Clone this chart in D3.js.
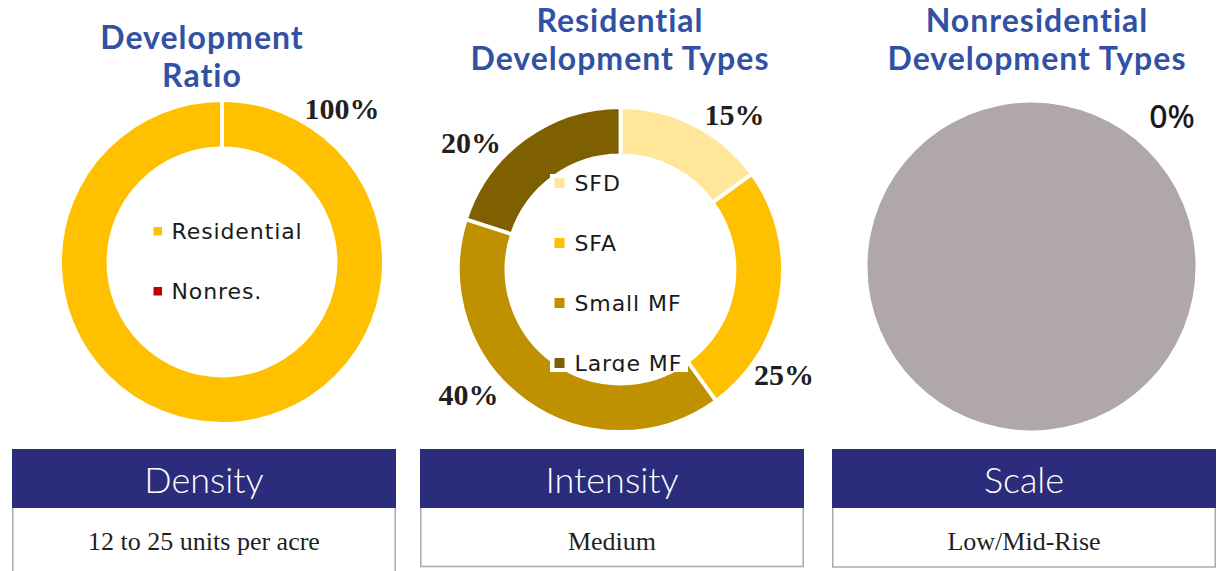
<!DOCTYPE html>
<html>
<head>
<meta charset="utf-8">
<script src="https://cdn.jsdelivr.net/npm/d3@7"></script>
<style>
  html, body { margin: 0; padding: 0; background: #ffffff; }
  svg { display: block; }
</style>
</head>
<body>
<svg id="chart" width="1220" height="571"></svg>
<script>
// ---- data ----
const ratioCategories = ["Residential", "Nonres."];
const ratioValues = [100, 0];

const resCategories = ["SFD", "SFA", "Small MF", "Large MF"];
const resValues = [15, 25, 40, 20];

const nonresCategories = ["Nonresidential", "Unassigned"];
const nonresValues = [0, 100];

const panelTitles = [
  ["Development", "Ratio"],
  ["Residential", "Development Types"],
  ["Nonresidential", "Development Types"]
];
const boxHeaders = ["Density", "Intensity", "Scale"];
const boxValues = ["12 to 25 units per acre", "Medium", "Low/Mid-Rise"];

// ---- styles / layout ----
const ratioColors = ["#FFC000", "#C00000"];
const resColors = ["#FFE699", "#FFC000", "#BF9000", "#7F6000"];
const nonresColors = ["#C00000", "#AFA7AB"];
const titleColor = "#3151A4";
const headerColor = "#2B2D7C";

const svg = d3.select("#chart");
const fmtPct = v => v + "%";

const titleFont = "Lato, 'Open Sans', sans-serif";
const legendFont = "'DejaVu Sans', sans-serif";
const serifFont = "'Liberation Serif', 'Times New Roman', serif";

// Panel titles (two lines each)
const titleLayout = [
  { x: 202, y: [49, 87] },
  { x: 620, y: [31.5, 69.5] },
  { x: 1037, y: [31.5, 69.5] }
];
panelTitles.forEach((lines, i) => {
  const t = svg.append("text")
    .attr("text-anchor", "middle")
    .attr("fill", titleColor)
    .style("font-family", titleFont)
    .style("font-weight", 700)
    .style("font-size", "32px")
    .style("letter-spacing", "1px");
  lines.forEach((line, j) => {
    t.append("tspan").attr("x", titleLayout[i].x).attr("y", titleLayout[i].y[j]).text(line);
  });
});

const pie = d3.pie().sort(null).value(d => d);

// Draw a donut / pie panel
function drawPie(opts) {
  const g = svg.append("g").attr("transform", `translate(${opts.cx},${opts.cy})`);
  const arc = d3.arc().innerRadius(opts.inner).outerRadius(opts.outer);
  g.selectAll("path.slice")
    .data(pie(opts.values))
    .join("path")
    .attr("class", "slice")
    .attr("d", arc)
    .attr("fill", (d, i) => opts.colors[i])
    .attr("stroke", opts.stroke ? "#ffffff" : "none")
    .attr("stroke-width", opts.stroke || 0)
    .attr("stroke-linejoin", "miter");
  return g;
}

// Development ratio donut
const g1 = drawPie({ cx: 222, cy: 262, inner: 113.5, outer: 162, values: ratioValues, colors: ratioColors, stroke: 3.8 });
// Residential types donut
const g2 = drawPie({ cx: 620.5, cy: 269.5, inner: 114, outer: 162.5, values: resValues, colors: resColors, stroke: 3.8 });
// Nonresidential types pie
const g3 = drawPie({ cx: 1031.5, cy: 266.5, inner: 0, outer: 164, values: nonresValues, colors: nonresColors, stroke: 0 });

// Legends inside the donut holes
function drawLegend(g, cats, colors, box, rows) {
  const id = "clip" + Math.random().toString(36).slice(2, 8);
  svg.append("clipPath").attr("id", id)
    .append("rect").attr("x", box.x).attr("y", box.y).attr("width", box.w).attr("height", box.h);
  const lg = svg.append("g").attr("clip-path", `url(#${id})`);
  lg.append("rect").attr("x", box.x).attr("y", box.y).attr("width", box.w).attr("height", box.h).attr("fill", "#ffffff");
  cats.forEach((c, i) => {
    const y = rows.y0 + i * rows.dy;
    lg.append("rect")
      .attr("x", rows.sx).attr("y", y - rows.sq - 3)
      .attr("width", rows.sq).attr("height", rows.sq)
      .attr("fill", colors[i]);
    lg.append("text")
      .attr("x", rows.tx).attr("y", y)
      .attr("fill", "#1a1a1a")
      .style("font-family", legendFont)
      .style("font-size", "22px")
      .style("letter-spacing", "0.9px")
      .text(c);
  });
}
drawLegend(g1, ratioCategories, ratioColors,
  { x: 148, y: 210, w: 160, h: 100 },
  { y0: 238.5, dy: 60, sx: 153.5, tx: 171.5, sq: 8.5 });
drawLegend(g2, resCategories, resColors,
  { x: 550, y: 174, w: 138, h: 198 },
  { y0: 191, dy: 60, sx: 554.5, tx: 574.5, sq: 10 });

// Percentage labels
const ratioLabelPos = [[342, 119]];
ratioLabelPos.forEach((p, i) => {
  svg.append("text").attr("x", p[0]).attr("y", p[1]).attr("text-anchor", "middle")
    .attr("fill", "#231f20").style("font-family", serifFont).style("font-weight", 700)
    .style("font-size", "30px").text(fmtPct(ratioValues[i]));
});
const resLabelPos = [[734.5, 125], [784, 384.5], [468.5, 405], [471, 152.5]];
resLabelPos.forEach((p, i) => {
  svg.append("text").attr("x", p[0]).attr("y", p[1]).attr("text-anchor", "middle")
    .attr("fill", "#231f20").style("font-family", serifFont).style("font-weight", 700)
    .style("font-size", "30px").text(fmtPct(resValues[i]));
});
svg.append("text").attr("x", 1172).attr("y", 127.5).attr("text-anchor", "middle")
  .attr("fill", "#1a1a1a").style("font-family", "'Noto Sans', sans-serif")
  .style("font-weight", 500).style("font-size", "32px").text(fmtPct(nonresValues[0]));

// Attribute boxes
const boxLayout = [
  { x: 12, w: 384, bottom: 580 },
  { x: 420, w: 384, bottom: 566.5 },
  { x: 832, w: 384, bottom: 567 }
];
const headerTop = 449, headerH = 59;
boxHeaders.forEach((h, i) => {
  const b = boxLayout[i];
  const bodyTop = headerTop + headerH;
  svg.append("path")
    .attr("d", `M${b.x + 0.75},${bodyTop} V${b.bottom} H${b.x + b.w - 0.75} V${bodyTop}`)
    .attr("fill", "#ffffff").attr("stroke", "#ababab").attr("stroke-width", 1.5);
  svg.append("rect").attr("x", b.x).attr("y", headerTop).attr("width", b.w).attr("height", headerH)
    .attr("fill", headerColor);
  svg.append("text").attr("x", b.x + b.w / 2).attr("y", 492.5).attr("text-anchor", "middle")
    .attr("fill", "#ffffff").style("font-family", titleFont).style("font-weight", 300)
    .style("font-size", "36px").text(h);
  svg.append("text").attr("x", b.x + b.w / 2).attr("y", 550).attr("text-anchor", "middle")
    .attr("fill", "#1f1f1f").style("font-family", serifFont)
    .style("font-size", "26px").text(boxValues[i]);
});
</script>
</body>
</html>
